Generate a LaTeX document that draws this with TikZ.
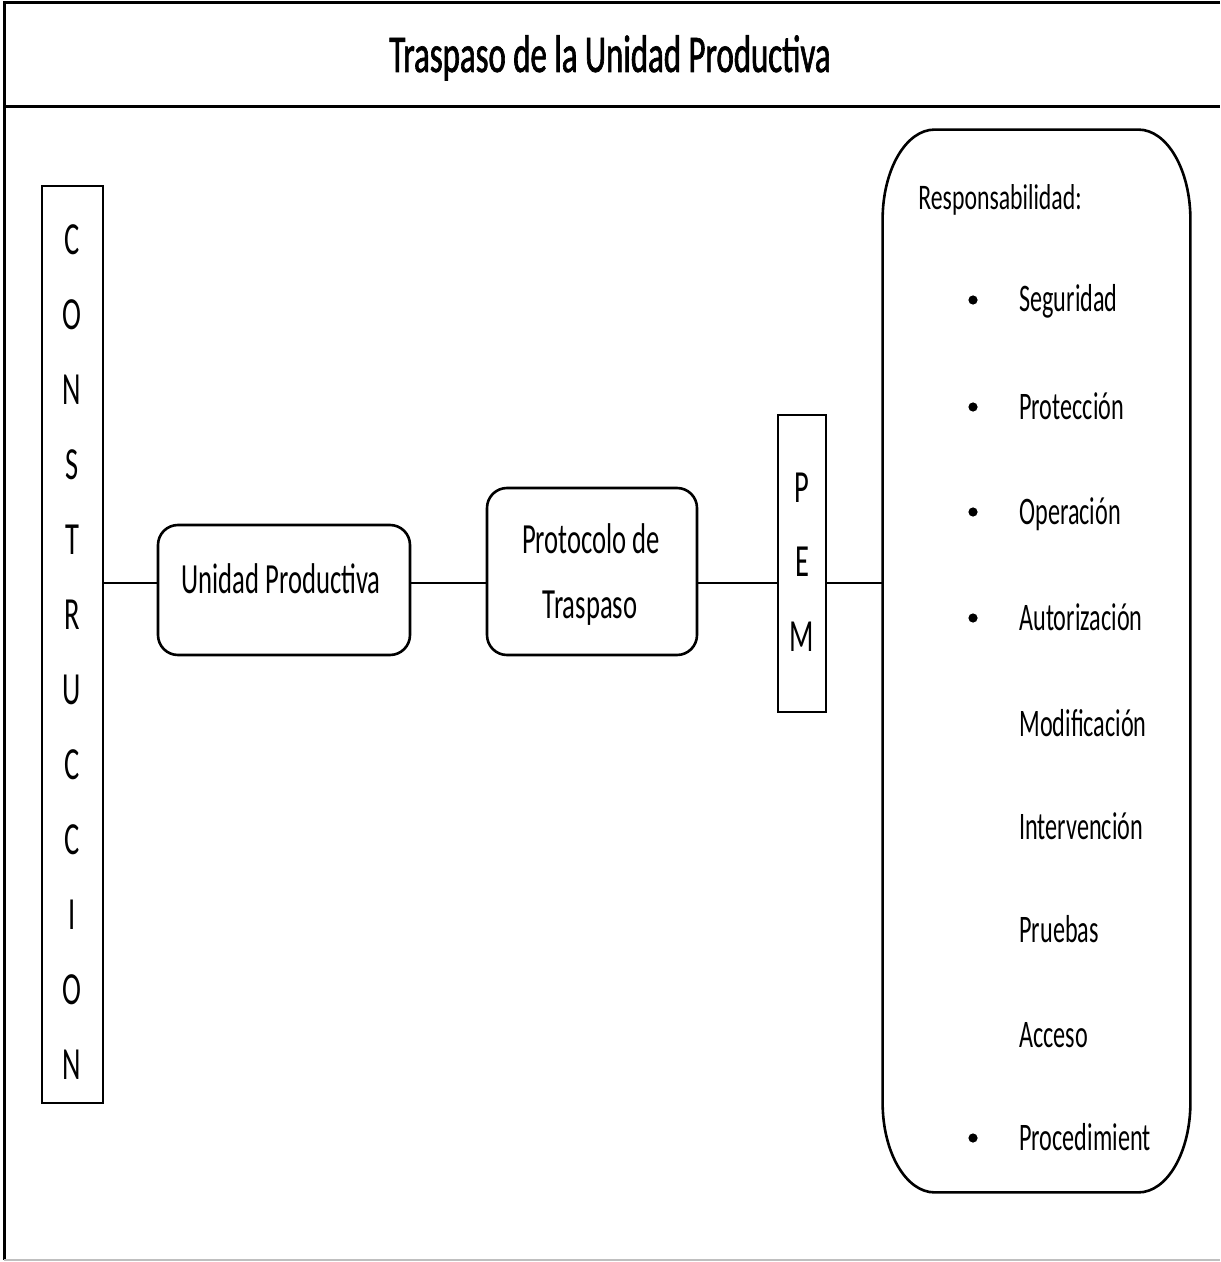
\documentclass[tikz,border=0pt]{standalone}
\usepackage{fontspec}
\setmainfont{Carlito}
\newfontfamily\cond[FakeStretch=0.62]{Carlito}
\newfontfamily\condwide[FakeStretch=0.66]{Carlito}
\newfontfamily\condheavy[FakeStretch=0.62,FakeBold=1.2]{Carlito}
\usetikzlibrary{calc}

\begin{document}
\begin{tikzpicture}[x=0.5pt,y=-0.5pt,
  frameline/.style={line width=1.5pt},
  box/.style={draw, line width=1.3pt, inner sep=0pt},
  rbox/.style={box, rounded corners=10pt},
  link/.style={line width=1.3pt},
  letter/.style={inner sep=0pt, font=\cond\fontsize{23}{26}\selectfont},
  boxtext/.style={inner sep=0pt, anchor=base, font=\cond\fontsize{21.5}{24}\selectfont},
  dot/.style={circle, fill, inner sep=0pt, minimum size=4.6pt},
  item/.style={anchor=base west, inner sep=0pt, font=\cond\fontsize{19.5}{22}\selectfont},
]
\useasboundingbox (0,0) rectangle (1220,1262);
\fill[white] (0,0) rectangle (1220,1262);

% page frame and header band
\draw[frameline] (1220,3) -- (4,3) -- (4,1260);
\draw[frameline] (4,107) -- (1220,107);
\draw[black!25, line width=0.8pt] (4,1260) -- (1220,1260);
\node[anchor=base, inner sep=0pt, font=\condheavy\fontsize{26.5}{30}\selectfont] (title) at (610,72)
  {Traspaso de la Unidad Productiva};

% vertical CONSTRUCCION column
\node[box, minimum width=30.5pt, minimum height=458.5pt] (cons) at (72.5,644.5) {};
\foreach \l [count=\i] in {C,O,N,S,T,R,U,C,C,I,O,N}
  \node[letter] (cons\i) at (72,165+75*\i) {\l};

% process boxes
\node[rbox, minimum width=126pt, minimum height=65pt] (unidad) at (284,590) {};
\node[boxtext] (unidadTxt) at (281,593) {Unidad Productiva};

\node[rbox, minimum width=105pt, minimum height=83.5pt] (proto) at (592,571.5) {};
\node[boxtext] (protoA) at (591,553) {Protocolo de};
\node[boxtext] (protoB) at (590,618) {Traspaso};

\node[box, minimum width=24pt, minimum height=148.5pt] (pem) at (802,563.5) {};
\node[letter] (pemP) at (802,488) {P};
\node[letter] (pemE) at (802,562) {E};
\node[letter] (pemM) at (802,637) {M};

% responsibilities panel (tall rounded box with elliptic corners)
\node[inner sep=0pt, minimum width=153.5pt, minimum height=531pt] (resp) at (1036.5,661) {};
\draw[line width=1.3pt]
  ($(resp.north west)+(0,90)$)
  arc[start angle=180, end angle=90, x radius=26pt, y radius=45pt]
  -- ($(resp.north east)+(-52,0)$)
  arc[start angle=90, end angle=0, x radius=26pt, y radius=45pt]
  -- ($(resp.south east)+(0,-90)$)
  arc[start angle=0, end angle=-90, x radius=26pt, y radius=45pt]
  -- ($(resp.south west)+(52,0)$)
  arc[start angle=270, end angle=180, x radius=26pt, y radius=45pt]
  -- cycle;

\node[item, font=\condwide\fontsize{18}{20}\selectfont] (respHead) at (918,210) {Responsabilidad:};
\foreach \name/\txt/\yy/\b in {
    seg/Seguridad/300/1, prot/Protección/407/1, oper/Operación/512/1,
    aut/Autorización/618/1, mod/Modificación/724/0, inter/Intervención/827/0,
    prueb/Pruebas/930/0, acc/Acceso/1035/0, proc/Procedimient/1138/1} {
  \node[item] (\name) at (1019,\yy+12) {\txt};
  \ifnum\b=1 \node[dot] (\name Dot) at (973,\yy) {}; \fi
}

% connectors along the main line
\coordinate (spine) at (0,583);
\draw[link] (cons.east |- spine) -- (unidad.west |- spine);
\draw[link] (unidad.east |- spine) -- (proto.west |- spine);
\draw[link] (proto.east |- spine) -- (pem.west |- spine);
\draw[link] (pem.east |- spine) -- (resp.west |- spine);
\end{tikzpicture}
\end{document}
